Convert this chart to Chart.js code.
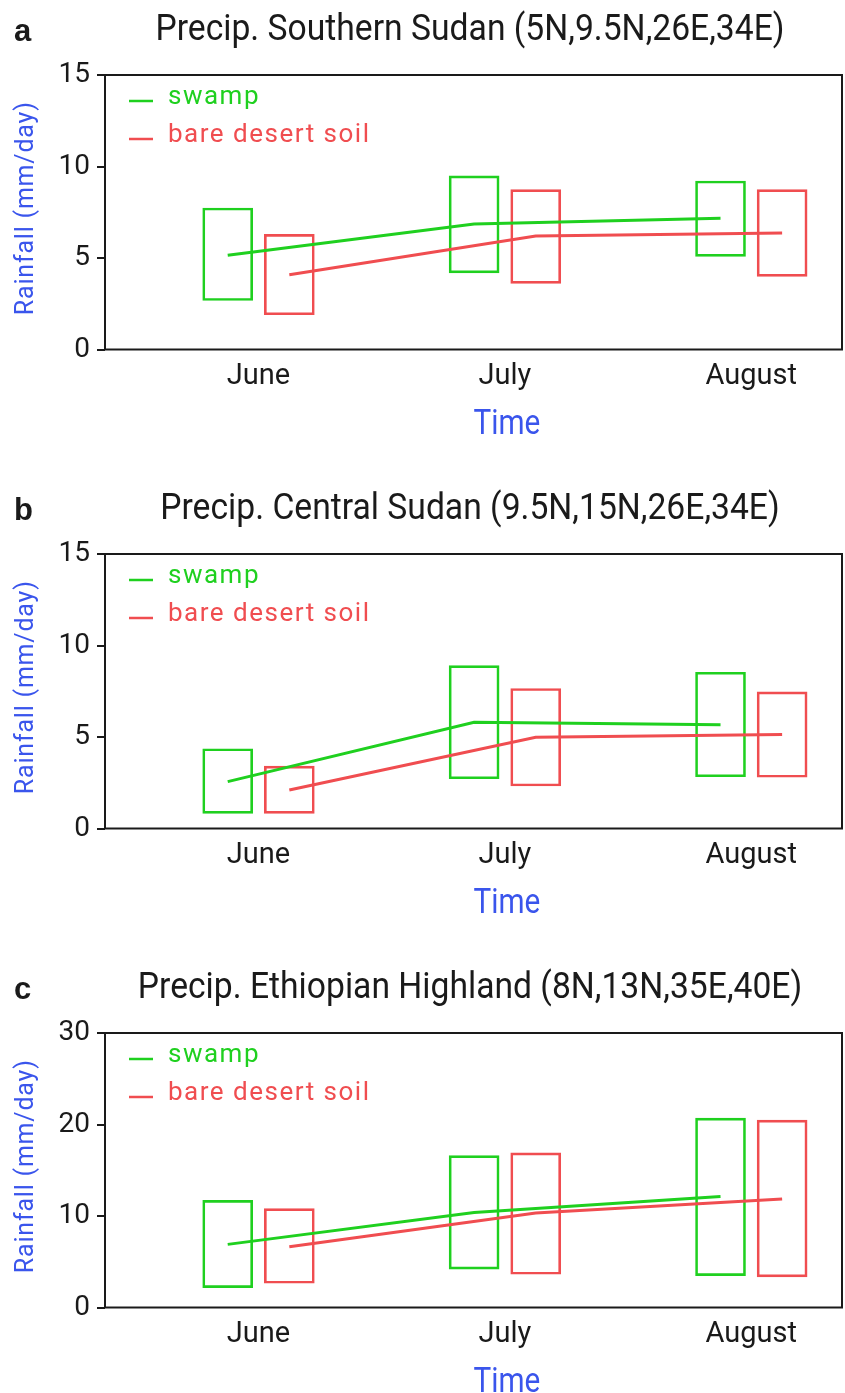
<!DOCTYPE html>
<html>
<head>
<meta charset="utf-8">
<script src="https://cdn.jsdelivr.net/npm/chart.js@4.4.1/dist/chart.umd.min.js"></script>
<style>
  body { margin: 0; background: #fff; }
  canvas { display: block; }
</style>
</head>
<body>
<canvas id="panelA" width="845" height="479"></canvas>
<canvas id="panelB" width="845" height="479"></canvas>
<canvas id="panelC" width="845" height="435"></canvas>
<script>
const months = ['June', 'July', 'August'];

// a: Southern Sudan, [low, high] box per month and mean line (mm/day)
const southSwampRange = [[2.68, 7.73], [4.19, 9.49], [5.09, 9.21]];
const southSoilRange  = [[1.90, 6.29], [3.61, 8.74], [4.00, 8.74]];
const southSwampMean  = [5.15, 6.86, 7.17];
const southSoilMean   = [4.09, 6.20, 6.37];

// b: Central Sudan
const centralSwampRange = [[0.83, 4.36], [2.72, 8.90], [2.83, 8.54]];
const centralSoilRange  = [[0.83, 3.41], [2.32, 7.65], [2.80, 7.47]];
const centralSwampMean  = [2.56, 5.81, 5.67];
const centralSoilMean   = [2.10, 4.98, 5.14];

// c: Ethiopian Highland
const highlandSwampRange = [[2.17, 11.7], [4.20, 16.6], [3.48, 20.7]];
const highlandSoilRange  = [[2.65, 10.8], [3.63, 16.9], [3.34, 20.48]];
const highlandSwampMean  = [6.90, 10.37, 12.14];
const highlandSoilMean   = [6.65, 10.33, 11.85];

const sudanTicks = [0, 5, 10, 15];
const highlandTicks = [0, 10, 20, 30];

const GREEN = '#1fd01f';
const RED = '#f04d50';
const BLUE = '#3a55ec';
const INK = '#1a1a1a';
const SHIFT = 0.125; // box offset from the month position

function squeeze(ctx, text, x, y, font, color, sx, align) {
  ctx.save();
  ctx.font = font;
  ctx.fillStyle = color;
  ctx.textAlign = align || 'center';
  ctx.textBaseline = 'alphabetic';
  ctx.translate(x, y);
  ctx.scale(sx, 1);
  ctx.fillText(text, 0, 0);
  ctx.restore();
}

const decor = {
  id: 'decor',
  afterDraw(chart, args, opts) {
    const ctx = chart.ctx;
    const a = chart.chartArea;
    // frame
    ctx.save();
    ctx.strokeStyle = INK;
    ctx.lineWidth = 2;
    ctx.strokeRect(a.left, a.top, a.right - a.left, a.bottom - a.top);
    ctx.restore();

    // panel letter and title
    ctx.save();
    ctx.font = 'bold 31px "Liberation Sans", Arial, sans-serif';
    ctx.fillStyle = INK;
    ctx.fillText(opts.letter, 14, 41);
    ctx.restore();
    squeeze(ctx, opts.title, 470, 39.5, '36px Roboto', INK, 0.935, 'center');

    // legend inside the plot
    ctx.save();
    ctx.font = '26px Roboto';
    ctx.letterSpacing = '1.5px';
    ctx.textBaseline = 'alphabetic';
    const lines = chart.data.datasets.filter(d => d.type === 'line');
    lines.forEach((d, i) => {
      const base = a.top + 29 + i * 38;
      ctx.strokeStyle = d.borderColor;
      ctx.lineWidth = 2.5;
      ctx.beginPath();
      ctx.moveTo(a.left + 24, base - 3);
      ctx.lineTo(a.left + 48, base - 3);
      ctx.stroke();
      ctx.fillStyle = d.borderColor;
      ctx.fillText(d.label, a.left + 63, base);
    });
    ctx.restore();

    // axis titles
    ctx.save();
    ctx.translate(33, (a.top + a.bottom) / 2 - 4);
    ctx.rotate(-Math.PI / 2);
    ctx.font = '25px Roboto';
    ctx.letterSpacing = '0.8px';
    ctx.fillStyle = BLUE;
    ctx.textAlign = 'center';
    ctx.fillText('Rainfall (mm/day)', 0, 0);
    ctx.restore();
    const xs = chart.scales.x;
    squeeze(ctx, 'Time', xs.getPixelForValue(2) + 2, a.bottom + 84, '35px Roboto', BLUE, 0.85, 'center');
  }
};

function makePanel(id, letter, title, swampRange, soilRange, swampMean, soilMean, yTicks) {
  const canvas = document.getElementById(id);
  const H = canvas.height;
  return new Chart(canvas, {
    type: 'bar',
    data: {
      datasets: [
        {
          type: 'line', label: 'swamp', order: 1,
          data: swampMean.map((v, i) => ({ x: i + 1 - SHIFT, y: v })),
          borderColor: GREEN, borderWidth: 3, pointRadius: 0, tension: 0, fill: false
        },
        {
          type: 'line', label: 'bare desert soil', order: 1,
          data: soilMean.map((v, i) => ({ x: i + 1 + SHIFT, y: v })),
          borderColor: RED, borderWidth: 3, pointRadius: 0, tension: 0, fill: false
        },
        {
          type: 'bar', label: 'swamp range', order: 2,
          data: swampRange.map((r, i) => ({ x: i + 1 - SHIFT, y: r })),
          backgroundColor: 'rgba(0,0,0,0)', borderColor: GREEN, borderWidth: 2,
          borderSkipped: false, barThickness: 50, grouped: false
        },
        {
          type: 'bar', label: 'soil range', order: 2,
          data: soilRange.map((r, i) => ({ x: i + 1 + SHIFT, y: r })),
          backgroundColor: 'rgba(0,0,0,0)', borderColor: RED, borderWidth: 2,
          borderSkipped: false, barThickness: 50, grouped: false
        }
      ]
    },
    options: {
      responsive: false,
      animation: false,
      events: [],
      layout: { padding: { top: 75, right: 3, left: 0, bottom: 0 } },
      scales: {
        x: {
          type: 'linear', min: 0.377, max: 3.368, offset: false,
          afterBuildTicks: s => { s.ticks = months.map((m, i) => ({ value: i + 1 })); },
          afterFit: s => { s.height = H - 349.5; },
          ticks: {
            callback: v => months[Math.round(v) - 1],
            font: { family: 'Roboto', size: 29 }, color: INK, padding: 2,
            maxRotation: 0, autoSkip: false
          },
          grid: { display: false },
          border: { display: false }
        },
        y: {
          min: yTicks[0], max: yTicks[yTicks.length - 1],
          afterBuildTicks: s => { s.ticks = yTicks.map(v => ({ value: v })); },
          afterFit: s => { s.width = 105; },
          ticks: { font: { family: 'Roboto', size: 28 }, color: INK, padding: 7 },
          grid: { drawOnChartArea: false, tickLength: 8, lineWidth: 2, color: INK },
          border: { display: false }
        }
      },
      plugins: {
        legend: { display: false },
        tooltip: { enabled: false },
        decor: { letter: letter, title: title }
      }
    },
    plugins: [decor]
  });
}

makePanel('panelA', 'a', 'Precip. Southern Sudan (5N,9.5N,26E,34E)',
  southSwampRange, southSoilRange, southSwampMean, southSoilMean, sudanTicks);
makePanel('panelB', 'b', 'Precip. Central Sudan (9.5N,15N,26E,34E)',
  centralSwampRange, centralSoilRange, centralSwampMean, centralSoilMean, sudanTicks);
makePanel('panelC', 'c', 'Precip. Ethiopian Highland (8N,13N,35E,40E)',
  highlandSwampRange, highlandSoilRange, highlandSwampMean, highlandSoilMean, highlandTicks);
</script>
</body>
</html>
